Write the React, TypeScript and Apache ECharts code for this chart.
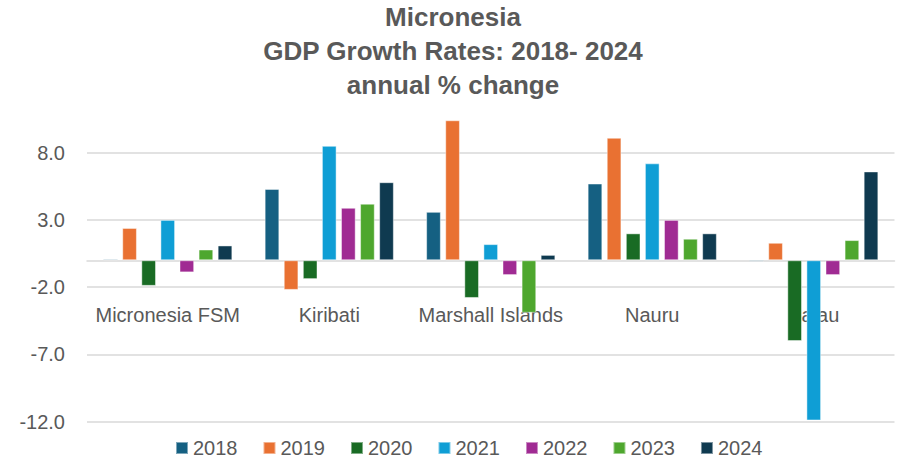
import React, { useEffect, useRef } from "react";
import * as echarts from "echarts";

const categories = ["Micronesia FSM", "Kiribati", "Marshall Islands", "Nauru", "Palau"];
const years = ["2018", "2019", "2020", "2021", "2022", "2023", "2024"];
const s2018 = [0.1, 5.3, 3.6, 5.7, -0.1];
const s2019 = [2.4, -2.2, 10.4, 9.1, 1.3];
const s2020 = [-1.9, -1.4, -2.8, 2.0, -6.0];
const s2021 = [3.0, 8.5, 1.2, 7.2, -11.9];
const s2022 = [-0.9, 3.9, -1.1, 3.0, -1.1];
const s2023 = [0.8, 4.2, -3.9, 1.6, 1.5];
const s2024 = [1.1, 5.8, 0.4, 2.0, 6.6];
const seriesValues = [s2018, s2019, s2020, s2021, s2022, s2023, s2024];
const colors = ["#156082", "#E97132", "#196B24", "#0F9ED5", "#A02B93", "#4EA72E", "#0F3A50"];
const titleText = "Micronesia\nGDP Growth Rates: 2018- 2024\nannual % change";

const FONT = "'Liberation Sans', Arial, sans-serif";

export default function App() {
  const ref = useRef<HTMLDivElement>(null);
  useEffect(() => {
    if (!ref.current) return;
    const chart = echarts.init(ref.current, undefined, { renderer: "svg" });
    chart.setOption({
      animation: false,
      backgroundColor: "#ffffff",
      textStyle: { fontFamily: FONT },
      title: {
        text: titleText,
        left: "center",
        top: 0,
        padding: [0, 0, 0, 10],
        textStyle: {
          fontFamily: FONT,
          fontSize: 26,
          fontWeight: "bold",
          color: "#595959",
          lineHeight: 34,
        },
      },
      legend: {
        data: years,
        left: 170,
        top: 433,
        icon: "rect",
        itemWidth: 12,
        itemHeight: 12,
        itemGap: 25,
        textStyle: { fontFamily: FONT, fontSize: 20, color: "#595959" },
      },
      grid: {
        left: 87,
        right: 11.5,
        top: 112.2,
        bottom: 42.2,
        containLabel: false,
        outerBoundsMode: "none",
      },
      xAxis: {
        type: "category",
        data: categories,
        axisTick: { show: false },
        axisLine: { show: true, onZero: true, lineStyle: { color: "#d9d9d9", width: 1.5 } },
        axisLabel: {
          interval: 0,
          hideOverlap: false,
          margin: -117.3,
          fontFamily: FONT,
          fontSize: 20,
          color: "#595959",
        },
        z: 0,
      },
      yAxis: {
        type: "value",
        min: -12,
        max: 11,
        interval: 5,
        axisLine: { show: false },
        axisTick: { show: false },
        axisLabel: {
          margin: 22,
          fontFamily: FONT,
          fontSize: 20,
          color: "#595959",
          showMaxLabel: false,
          formatter: (v: number) => v.toFixed(1),
        },
        splitLine: { show: true, showMaxLine: false, lineStyle: { color: "#d9d9d9", width: 1.5 } },
      },
      series: years.map((y, i) => ({
        name: y,
        type: "bar",
        data: seriesValues[i],
        barGap: "30%",
        barCategoryGap: "20%",
        itemStyle: { color: colors[i], borderColor: "rgba(255,255,255,0.45)", borderWidth: 1 },
      })),
    });
    return () => chart.dispose();
  }, []);
  return <div ref={ref} style={{ position: "fixed", left: 0, top: 0, width: 906, height: 464 }} />;
}
